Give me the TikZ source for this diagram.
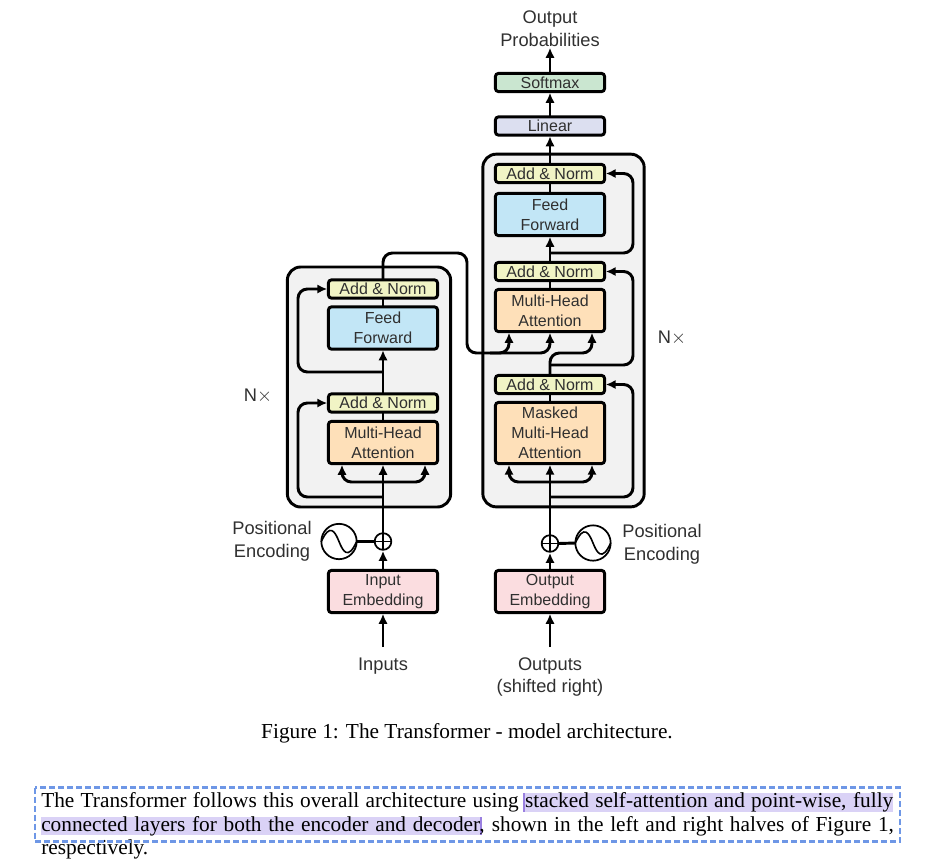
\documentclass[tikz,border=0pt]{standalone}
\usepackage{fontspec}
\setmainfont{Liberation Serif}
\newfontfamily\lab{Liberation Sans}
\usetikzlibrary{arrows.meta,calc}
\definecolor{cAN}{HTML}{F1F4C5}
\definecolor{cFF}{HTML}{C2E6F6}
\definecolor{cMH}{HTML}{FEE0B9}
\definecolor{cSM}{HTML}{CAE6D0}
\definecolor{cLI}{HTML}{DCDFF0}
\definecolor{cEM}{HTML}{FBDDE0}
\definecolor{cOUT}{HTML}{F2F2F2}
\definecolor{cDASH}{HTML}{6E97E6}
\definecolor{cHL}{HTML}{DAD2F6}
\definecolor{cCARET}{HTML}{9A80E0}
\definecolor{cTXT}{HTML}{303030}
\tikzset{
  blockbox/.style={draw=black,line width=2.2pt,rounded corners=2.5pt,minimum width=82pt,inner sep=0pt,outer sep=0pt,align=center,text=cTXT,font=\lab\fontsize{12}{15}\selectfont},
  oneline/.style={blockbox,minimum height=13.8pt},
  twoline/.style={blockbox,minimum height=31.8pt},
  threeline/.style={blockbox,minimum height=46pt},
  outerbox/.style={draw=black,line width=2.2pt,rounded corners=10pt,fill=cOUT,inner sep=0pt,outer sep=0pt},
  lbl/.style={inner sep=0pt,align=center,text=cTXT,font=\lab\fontsize{13.7}{17.2}\selectfont},
  wire/.style={draw=black,line width=2.2pt,rounded corners=7pt},
  arr/.style={wire,-{Latex[length=7.5pt,width=7pt]},shorten >=0.8pt},
  sinecirc/.style={draw=black,line width=1.3pt,circle,minimum size=26.5pt,inner sep=0pt,outer sep=0pt},
  pluscirc/.style={draw=black,line width=1.3pt,circle,minimum size=12.5pt,inner sep=0pt,outer sep=0pt},
  thinline/.style={draw=black,line width=1.2pt},
  para/.style={inner sep=0pt,anchor=base west,font=\fontsize{16}{19}\selectfont},
}
\begin{document}
\begin{tikzpicture}[x=0.75pt,y=-0.75pt]
\useasboundingbox (0,0) rectangle (927,861);
% outer stacks
\node[outerbox,minimum width=122.5pt,minimum height=180pt] (encstack) at (369,387) {};
\node[outerbox,minimum width=121pt,minimum height=264.5pt] (decstack) at (563.5,330.5) {};
% encoder blocks
\node[twoline,fill=cEM] (inemb) at (383,591.5) {Input\\Embedding};
\node[twoline,fill=cMH] (emha) at (383,442.5) {Multi-Head\\Attention};
\node[oneline,fill=cAN] (ean1) at (383,403) {Add \& Norm};
\node[twoline,fill=cFF] (eff) at (383,328) {Feed\\Forward};
\node[oneline,fill=cAN] (ean2) at (383,289) {Add \& Norm};
% decoder blocks
\node[twoline,fill=cEM] (outemb) at (550,591.5) {Output\\Embedding};
\node[threeline,fill=cMH] (dmask) at (550,433) {Masked\\Multi-Head\\Attention};
\node[oneline,fill=cAN] (dan1) at (550,384.5) {Add \& Norm};
\node[twoline,fill=cMH] (dmha) at (550,310.5) {Multi-Head\\Attention};
\node[oneline,fill=cAN] (dan2) at (550,271.5) {Add \& Norm};
\node[twoline,fill=cFF] (dff) at (550,214.5) {Feed\\Forward};
\node[oneline,fill=cAN] (dan3) at (550,173.5) {Add \& Norm};
\node[oneline,fill=cLI] (linear) at (550,126) {Linear};
\node[oneline,fill=cSM] (softmax) at (550,82.5) {Softmax};
% labels
\node[lbl] (outprob) at (550,28.5) {Output\\Probabilities};
\node[lbl] (inputs) at (383,666) {Inputs};
\node[lbl] (outputs) at (550,677) {Outputs\\(shifted right)};
\node[lbl] (nleft) at (258,396) {N$\times$};
\node[lbl] (nright) at (672,338) {N$\times$};
\node[lbl] (peleft) at (272,541) {Positional\\Encoding};
\node[lbl] (peright) at (662,544) {Positional\\Encoding};
% positional encoding
\node[pluscirc] (eplus) at (383,541.5) {};
\node[pluscirc] (dplus) at (550,543.5) {};
\node[sinecirc] (esine) at (339,541.5) {};
\node[sinecirc] (dsine) at (593,543) {};
\draw[thinline] (eplus.north) -- (eplus.south) (eplus.west) -- (eplus.east);
\draw[thinline] (dplus.north) -- (dplus.south) (dplus.west) -- (dplus.east);
\draw[thinline] (esine.west) .. controls ($(esine)+(-9,-19)$) and ($(esine)+(-4,-10)$) .. (esine.center) .. controls ($(esine)+(4,10)$) and ($(esine)+(9,19)$) .. (esine.east);
\draw[thinline] (dsine.west) .. controls ($(dsine)+(-9,-19)$) and ($(dsine)+(-4,-10)$) .. (dsine.center) .. controls ($(dsine)+(4,10)$) and ($(dsine)+(9,19)$) .. (dsine.east);
\draw[wire] (esine.east) -- (eplus.west);
\draw[wire] (dsine.west) -- (dplus.east);
% helper rails
\coordinate (exl) at (342,0);
\coordinate (exr) at (425,0);
\coordinate (exs) at (298,0);
\coordinate (dxl) at (509,0);
\coordinate (dxr) at (592,0);
\coordinate (dxs) at (633,0);
\coordinate (xcross) at (467,0);
\coordinate (inbot) at (383,647);
\coordinate (outbot) at (550,647);
% encoder connectors
\draw[arr] (inbot) -- (inemb.south);
\draw[arr] (inemb.north) -- (eplus.south);
\draw[arr] (eplus.north) -- (emha.south);
\draw[arr] (383,482) -- (exl |- 482,482) -- (exl |- emha.south);
\draw[arr] (383,482) -- (exr |- 482,482) -- (exr |- emha.south);
\draw[arr] (383,497) -- (exs |- 383,497) -- (exs |- ean1.west) -- (ean1.west);
\draw[wire] (emha.north) -- (ean1.south);
\draw[arr] (ean1.north) -- (eff.south);
\draw[arr] (383,372) -- (exs |- 383,372) -- (exs |- ean2.west) -- (ean2.west);
\draw[wire] (eff.north) -- (ean2.south);
% encoder to decoder
\draw[arr] (ean2.north) -- (383,253) -- (xcross |- 383,253) -- (xcross |- 383,353) -- (dxl |- 383,353) -- (dxl |- dmha.south);
\draw[arr] (490,353) -- (550,353) -- (dmha.south);
\draw[arr] (dan1.north) -- (550,353) -- (dxr |- 383,353) -- (dxr |- dmha.south);
% decoder connectors
\draw[arr] (outbot) -- (outemb.south);
\draw[arr] (outemb.north) -- (dplus.south);
\draw[arr] (dplus.north) -- (dmask.south);
\draw[arr] (550,482) -- (dxl |- 482,482) -- (dxl |- dmask.south);
\draw[arr] (550,482) -- (dxr |- 482,482) -- (dxr |- dmask.south);
\draw[arr] (550,497) -- (dxs |- 550,497) -- (dxs |- dan1.east) -- (dan1.east);
\draw[wire] (dmask.north) -- (dan1.south);
\draw[arr] (550,365) -- (dxs |- 550,365) -- (dxs |- dan2.east) -- (dan2.east);
\draw[wire] (dmha.north) -- (dan2.south);
\draw[arr] (dan2.north) -- (dff.south);
\draw[arr] (550,253) -- (dxs |- 550,253) -- (dxs |- dan3.east) -- (dan3.east);
\draw[wire] (dff.north) -- (dan3.south);
\draw[arr] (dan3.north) -- (linear.south);
\draw[arr] (linear.north) -- (softmax.south);
\draw[arr] (softmax.north) -- (outprob.south);
% caption and paragraph
\node[inner sep=0pt,anchor=base,font=\fontsize{16}{19}\selectfont] (caption) at (467,738) {Figure 1: The Transformer - model architecture.};
\fill[cHL] (524,793) rectangle (893,812);
\fill[cHL] (41,817) rectangle (481,835);
\fill[cCARET] (522.5,793) rectangle (524.5,812);
\fill[cCARET] (480,817) rectangle (482,835);
\node[para] (line1) at (41,807) {\makebox[639pt][s]{The Transformer follows this overall architecture using stacked self-attention and point-wise, fully}};
\node[para] (line2) at (41,831) {\makebox[639.5pt][s]{connected layers for both the encoder and decoder, shown in the left and right halves of Figure 1,}};
\node[para] (line3) at (41,854) {respectively.};
\draw[cDASH,line width=2pt,dash pattern=on 4.5pt off 2.25pt] (35,787.5) rectangle (900,841.5);
\end{tikzpicture}
\end{document}
